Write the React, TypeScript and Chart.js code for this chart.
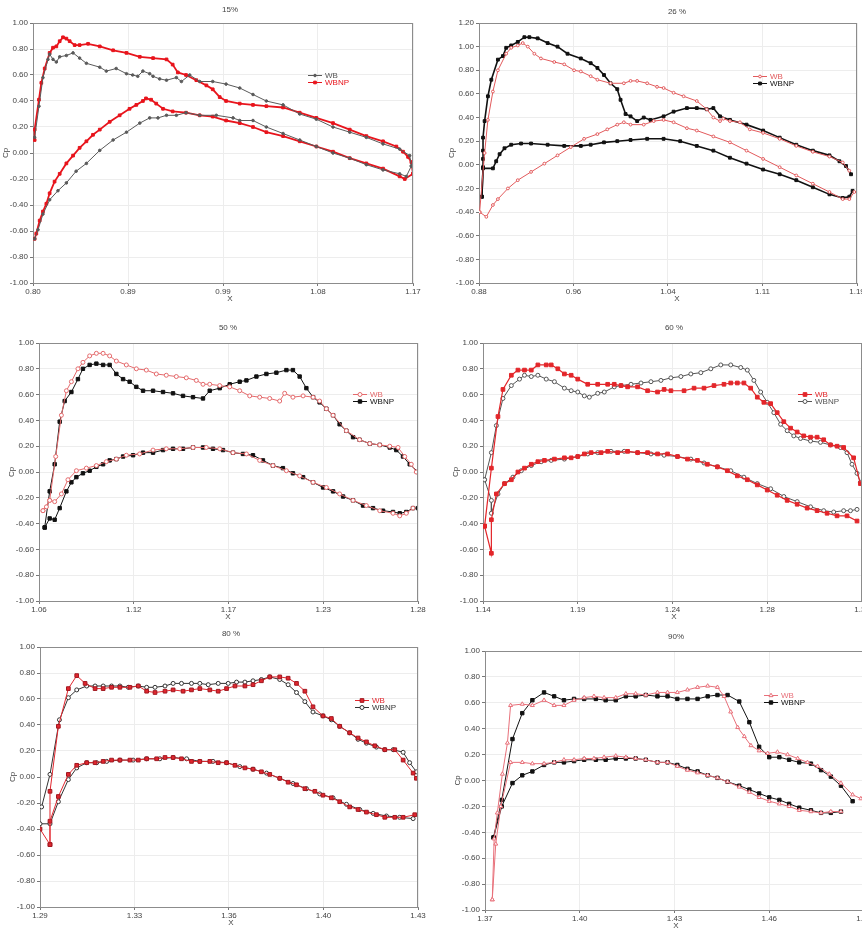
import React, { useEffect, useRef } from 'react';
import { Chart, registerables } from 'chart.js';

Chart.register(...registerables);

type Pt = [number, number];

// ---------------- shared ----------------
const seriesNames = ['WB', 'WBNP'];
const yLabels10 = ['-1.00', '-0.80', '-0.60', '-0.40', '-0.20', '0.00', '0.20', '0.40', '0.60', '0.80', '1.00'];
const yLabels12 = [...yLabels10, '1.20'];

// ---------------- 15% ----------------
const x15Range = [0.8, 1.17];
const x15Labels = ['0.80', '0.89', '0.99', '1.08', '1.17'];
const wb15Upper: Pt[] = [
  [0.8016, 0.12], [0.8058, 0.36], [0.8097, 0.58], [0.8146, 0.72], [0.8162, 0.76], [0.8195, 0.72], [0.8227, 0.70],
  [0.826, 0.74], [0.8325, 0.75], [0.839, 0.77], [0.8454, 0.73], [0.852, 0.69], [0.865, 0.66], [0.8714, 0.63],
  [0.881, 0.65], [0.891, 0.61], [0.897, 0.60], [0.902, 0.59], [0.907, 0.63], [0.9136, 0.61], [0.9169, 0.59],
  [0.9233, 0.57], [0.93, 0.56], [0.9396, 0.58], [0.9445, 0.55], [0.9526, 0.60], [0.9623, 0.55], [0.975, 0.55],
  [0.988, 0.53], [1.0013, 0.50], [1.0142, 0.45], [1.0272, 0.40], [1.0435, 0.37], [1.0597, 0.30], [1.0759, 0.26],
  [1.0921, 0.20], [1.1084, 0.16], [1.1246, 0.12], [1.1408, 0.07], [1.157, 0.03], [1.1668, -0.02], [1.1684, -0.10],
];
const wb15Lower: Pt[] = [
  [0.8016, -0.66], [0.8049, -0.59], [0.8097, -0.47], [0.8162, -0.36], [0.8243, -0.29], [0.8325, -0.23], [0.842, -0.14],
  [0.852, -0.08], [0.865, 0.02], [0.878, 0.10], [0.891, 0.16], [0.904, 0.23], [0.9136, 0.27], [0.9217, 0.27],
  [0.93, 0.29], [0.9396, 0.29], [0.949, 0.31], [0.9623, 0.29], [0.9785, 0.29], [0.9948, 0.27], [1.0013, 0.25],
  [1.0142, 0.25], [1.0272, 0.20], [1.0435, 0.15], [1.0597, 0.10], [1.0759, 0.05], [1.0921, 0.00], [1.1084, -0.04],
  [1.1246, -0.09], [1.1408, -0.13], [1.157, -0.16], [1.1635, -0.18], [1.1684, -0.10],
];
const wbnp15Upper: Pt[] = [
  [0.8016, 0.10], [0.8016, 0.18], [0.8058, 0.41], [0.8081, 0.54], [0.8114, 0.65], [0.8162, 0.77], [0.8195, 0.81],
  [0.8227, 0.82], [0.826, 0.86], [0.8292, 0.89], [0.8325, 0.88], [0.8357, 0.86], [0.8406, 0.83], [0.8454, 0.83],
  [0.8536, 0.84], [0.865, 0.82], [0.878, 0.79], [0.891, 0.77], [0.904, 0.74], [0.9169, 0.73], [0.93, 0.72],
  [0.936, 0.68], [0.941, 0.62], [0.949, 0.60], [0.959, 0.56], [0.9688, 0.52], [0.975, 0.49], [0.9818, 0.43],
  [0.988, 0.40], [1.0013, 0.38], [1.0142, 0.37], [1.0272, 0.36], [1.0435, 0.35], [1.0597, 0.31], [1.0759, 0.27],
  [1.0921, 0.23], [1.1084, 0.18], [1.1246, 0.13], [1.1408, 0.09], [1.1538, 0.05], [1.1603, 0.01], [1.1652, -0.03],
  [1.1684, -0.07], [1.17, -0.16],
];
const wbnp15Lower: Pt[] = [
  [0.8016, -0.66], [0.8032, -0.62], [0.8065, -0.52], [0.8097, -0.45], [0.813, -0.39], [0.8162, -0.31], [0.821, -0.22],
  [0.826, -0.16], [0.8325, -0.08], [0.839, -0.02], [0.8454, 0.04], [0.852, 0.09], [0.8584, 0.14], [0.865, 0.18],
  [0.8747, 0.24], [0.8844, 0.29], [0.894, 0.34], [0.9006, 0.37], [0.907, 0.40], [0.91, 0.42], [0.915, 0.41],
  [0.92, 0.38], [0.9266, 0.34], [0.936, 0.32], [0.949, 0.31], [0.9623, 0.29], [0.975, 0.28], [0.988, 0.25],
  [1.0013, 0.23], [1.0142, 0.20], [1.0272, 0.16], [1.0435, 0.13], [1.0597, 0.09], [1.0759, 0.05], [1.0921, 0.01],
  [1.1084, -0.04], [1.1246, -0.08], [1.1408, -0.12], [1.157, -0.18], [1.162, -0.20], [1.17, -0.16],
];

// ---------------- 26 % ----------------
const x26Range = [0.88, 1.19];
const x26Labels = ['0.88', '0.96', '1.04', '1.11', '1.19'];
const wb26Upper: Pt[] = [
  [0.8805, -0.40], [0.8846, 0.10], [0.8873, 0.38], [0.8914, 0.62], [0.8955, 0.80], [0.9023, 0.94], [0.9064, 0.99],
  [0.9118, 1.01], [0.9159, 1.03], [0.92, 1.00], [0.9254, 0.94], [0.9308, 0.90], [0.9417, 0.87], [0.9499, 0.85],
  [0.958, 0.80], [0.9635, 0.79], [0.9716, 0.75], [0.9771, 0.72], [0.9879, 0.69], [0.9988, 0.69], [1.0043, 0.71],
  [1.0097, 0.71], [1.0179, 0.69], [1.026, 0.66], [1.0314, 0.65], [1.0396, 0.61], [1.0478, 0.58], [1.0586, 0.54],
  [1.0668, 0.47], [1.0722, 0.40], [1.0777, 0.37], [1.0804, 0.39], [1.0858, 0.37], [1.094, 0.36], [1.1021, 0.30],
  [1.113, 0.27], [1.1266, 0.22], [1.1402, 0.16], [1.1538, 0.11], [1.1674, 0.07], [1.1783, 0.02], [1.1837, -0.05],
];
const wb26Lower: Pt[] = [
  [0.8805, -0.40], [0.886, -0.44], [0.8914, -0.34], [0.8955, -0.29], [0.9037, -0.20], [0.9118, -0.13], [0.9227, -0.06],
  [0.9336, 0.01], [0.9444, 0.08], [0.9553, 0.15], [0.9662, 0.22], [0.9771, 0.26], [0.9852, 0.30], [0.9934, 0.34],
  [0.9988, 0.36], [1.0043, 0.34], [1.0151, 0.34], [1.0233, 0.37], [1.0314, 0.38], [1.0396, 0.36], [1.0505, 0.31],
  [1.0586, 0.29], [1.0722, 0.24], [1.0858, 0.19], [1.0994, 0.12], [1.113, 0.05], [1.1266, -0.02], [1.1402, -0.09],
  [1.1538, -0.16], [1.1674, -0.23], [1.1783, -0.29], [1.1837, -0.29], [1.1878, -0.23],
];
const wbnp26Upper: Pt[] = [
  [0.8824, -0.27], [0.8833, -0.02], [0.8833, 0.05], [0.8833, 0.12], [0.8833, 0.23], [0.8846, 0.37], [0.8873, 0.58],
  [0.8901, 0.72], [0.8955, 0.89], [0.8996, 0.92], [0.9023, 0.99], [0.9064, 1.01], [0.9118, 1.04], [0.9172, 1.08],
  [0.9213, 1.08], [0.9281, 1.07], [0.9363, 1.03], [0.9444, 1.00], [0.9526, 0.94], [0.9635, 0.90], [0.9716, 0.86],
  [0.9771, 0.82], [0.9825, 0.76], [0.9879, 0.69], [0.9934, 0.64], [0.9961, 0.55], [1.0002, 0.43], [1.0043, 0.41],
  [1.0097, 0.37], [1.0151, 0.40], [1.0206, 0.38], [1.0314, 0.41], [1.0396, 0.45], [1.0505, 0.48], [1.0586, 0.48],
  [1.0668, 0.47], [1.0722, 0.48], [1.0777, 0.41], [1.0858, 0.38], [1.0994, 0.34], [1.113, 0.29], [1.1266, 0.23],
  [1.1402, 0.17], [1.1538, 0.12], [1.1674, 0.08], [1.1756, 0.03], [1.181, -0.01], [1.1851, -0.08],
];
const wbnp26Lower: Pt[] = [
  [0.8824, -0.27], [0.8833, -0.03], [0.8914, -0.03], [0.8941, 0.03], [0.8969, 0.09], [0.9009, 0.14], [0.9064, 0.17],
  [0.9145, 0.18], [0.9227, 0.18], [0.9363, 0.17], [0.9499, 0.16], [0.9635, 0.16], [0.9716, 0.17], [0.9825, 0.19],
  [0.9934, 0.20], [1.0043, 0.21], [1.0179, 0.22], [1.0314, 0.22], [1.045, 0.20], [1.0586, 0.16], [1.0722, 0.12],
  [1.0858, 0.06], [1.0994, 0.01], [1.113, -0.04], [1.1266, -0.08], [1.1402, -0.13], [1.1538, -0.19], [1.1674, -0.25],
  [1.1783, -0.28], [1.1837, -0.27], [1.1864, -0.22],
];

// ---------------- 50 % ----------------
const x50Range = [1.06, 1.28];
const x50Labels = ['1.06', '1.12', '1.17', '1.23', '1.28'];
const wb50Upper: Pt[] = [
  [1.0623, -0.30], [1.0643, -0.27], [1.0662, -0.22], [1.0697, 0.12], [1.073, 0.44], [1.0759, 0.63], [1.0788, 0.70],
  [1.0826, 0.80], [1.0855, 0.85], [1.0894, 0.90], [1.0933, 0.92], [1.0972, 0.92], [1.101, 0.90], [1.1049, 0.86],
  [1.1107, 0.83], [1.1165, 0.80], [1.1223, 0.79], [1.1281, 0.76], [1.1339, 0.75], [1.1397, 0.74], [1.1455, 0.73],
  [1.1513, 0.71], [1.1552, 0.68], [1.1591, 0.68], [1.1649, 0.67], [1.1707, 0.66], [1.1765, 0.63], [1.1823, 0.59],
  [1.1881, 0.58], [1.1939, 0.57], [1.1997, 0.55], [1.2026, 0.61], [1.2074, 0.58], [1.2133, 0.59], [1.2191, 0.58],
  [1.2229, 0.55], [1.2268, 0.49], [1.2307, 0.44], [1.2384, 0.32], [1.2461, 0.25], [1.252, 0.22], [1.2578, 0.21],
  [1.2636, 0.20], [1.2684, 0.19], [1.2723, 0.12], [1.2761, 0.06], [1.279, 0.00],
];
const wb50Lower: Pt[] = [
  [1.0623, -0.30], [1.0662, -0.22], [1.0691, -0.23], [1.073, -0.17], [1.0768, -0.06], [1.0817, 0.01], [1.0875, 0.03],
  [1.0933, 0.05], [1.0991, 0.08], [1.1049, 0.10], [1.1107, 0.13], [1.1184, 0.14], [1.1262, 0.17], [1.1339, 0.18],
  [1.1417, 0.18], [1.1494, 0.19], [1.1571, 0.19], [1.1649, 0.18], [1.1726, 0.15], [1.1804, 0.14], [1.1881, 0.09],
  [1.1958, 0.05], [1.2036, 0.01], [1.2113, -0.03], [1.2191, -0.08], [1.2268, -0.12], [1.2345, -0.17], [1.2423, -0.22],
  [1.25, -0.26], [1.2578, -0.30], [1.2655, -0.32], [1.2694, -0.34], [1.2732, -0.32], [1.2771, -0.28],
];
const wbnp50Upper: Pt[] = [
  [1.0633, -0.43], [1.0662, -0.15], [1.0691, 0.06], [1.072, 0.39], [1.0749, 0.55], [1.0788, 0.62], [1.0826, 0.72],
  [1.0855, 0.80], [1.0894, 0.83], [1.0933, 0.84], [1.0972, 0.83], [1.101, 0.83], [1.1049, 0.76], [1.1088, 0.72],
  [1.1126, 0.70], [1.1165, 0.66], [1.1204, 0.63], [1.1262, 0.63], [1.132, 0.62], [1.1378, 0.61], [1.1436, 0.59],
  [1.1494, 0.58], [1.1552, 0.57], [1.1591, 0.63], [1.1649, 0.65], [1.1707, 0.68], [1.1765, 0.70], [1.1804, 0.71],
  [1.1862, 0.74], [1.192, 0.76], [1.1978, 0.77], [1.2036, 0.79], [1.2074, 0.79], [1.2113, 0.74], [1.2152, 0.65],
  [1.2191, 0.58], [1.2229, 0.54], [1.2268, 0.49], [1.2307, 0.44], [1.2345, 0.37], [1.2384, 0.32], [1.2423, 0.27],
  [1.2461, 0.25], [1.252, 0.22], [1.2578, 0.21], [1.2636, 0.19], [1.2674, 0.17], [1.2713, 0.12], [1.2752, 0.06],
  [1.28, 0.00],
];
const wbnp50Lower: Pt[] = [
  [1.0633, -0.43], [1.0662, -0.36], [1.0691, -0.37], [1.072, -0.28], [1.0759, -0.15], [1.0788, -0.08], [1.0817, -0.04],
  [1.0855, -0.01], [1.0894, 0.01], [1.0933, 0.04], [1.0972, 0.06], [1.101, 0.09], [1.1049, 0.10], [1.1088, 0.12],
  [1.1146, 0.13], [1.1204, 0.15], [1.1262, 0.15], [1.132, 0.17], [1.1378, 0.18], [1.1436, 0.18], [1.1494, 0.19],
  [1.1552, 0.19], [1.161, 0.18], [1.1668, 0.17], [1.1726, 0.15], [1.1784, 0.14], [1.1842, 0.13], [1.19, 0.09],
  [1.1958, 0.05], [1.2016, 0.03], [1.2074, -0.01], [1.2133, -0.04], [1.2191, -0.08], [1.2249, -0.12], [1.2307, -0.15],
  [1.2365, -0.19], [1.2423, -0.22], [1.2481, -0.26], [1.2539, -0.28], [1.2597, -0.30], [1.2655, -0.31], [1.2694, -0.32],
  [1.2732, -0.31], [1.2771, -0.28], [1.28, -0.28],
];

// ---------------- 60 % ----------------
const x60Range = [1.14, 1.33];
const x60Labels = ['1.14', '1.19', '1.24', '1.28', '1.33'];
const wb60Upper: Pt[] = [
  [1.1408, -0.42], [1.1442, 0.03], [1.1475, 0.43], [1.15, 0.64], [1.1542, 0.75], [1.1575, 0.79], [1.1608, 0.79],
  [1.1642, 0.79], [1.1675, 0.83], [1.1717, 0.83], [1.1742, 0.83], [1.1775, 0.80], [1.1808, 0.76], [1.1842, 0.75],
  [1.1875, 0.72], [1.1925, 0.68], [1.1975, 0.68], [1.2025, 0.68], [1.2058, 0.68], [1.2092, 0.67], [1.2125, 0.66],
  [1.2175, 0.66], [1.2225, 0.63], [1.2275, 0.62], [1.2308, 0.64], [1.2342, 0.63], [1.2408, 0.63], [1.2458, 0.65],
  [1.2508, 0.65], [1.2558, 0.67], [1.2608, 0.68], [1.2642, 0.69], [1.2675, 0.69], [1.2708, 0.69], [1.2742, 0.65],
  [1.2775, 0.58], [1.2808, 0.54], [1.2842, 0.53], [1.2875, 0.46], [1.2908, 0.39], [1.2942, 0.34], [1.2975, 0.31],
  [1.3008, 0.28], [1.3042, 0.27], [1.3075, 0.27], [1.3108, 0.25], [1.3142, 0.21], [1.3175, 0.20], [1.3208, 0.19],
  [1.3258, 0.11], [1.3292, -0.09],
];
const wb60Lower: Pt[] = [
  [1.1408, -0.42], [1.1442, -0.63], [1.1442, -0.37], [1.1467, -0.17], [1.1508, -0.09], [1.1542, -0.06], [1.1575, 0.00],
  [1.1608, 0.03], [1.1642, 0.06], [1.1675, 0.08], [1.1708, 0.09], [1.1758, 0.10], [1.1808, 0.11], [1.1842, 0.11],
  [1.1875, 0.12], [1.1908, 0.14], [1.1942, 0.15], [1.1992, 0.15], [1.2025, 0.16], [1.2075, 0.15], [1.2125, 0.16],
  [1.2175, 0.15], [1.2225, 0.15], [1.2275, 0.14], [1.2325, 0.14], [1.2375, 0.12], [1.2425, 0.10], [1.2475, 0.09],
  [1.2525, 0.06], [1.2575, 0.04], [1.2625, 0.01], [1.2675, -0.03], [1.2725, -0.06], [1.2775, -0.10], [1.2825, -0.14],
  [1.2875, -0.18], [1.2925, -0.22], [1.2975, -0.25], [1.3025, -0.28], [1.3075, -0.30], [1.3125, -0.32], [1.3175, -0.34],
  [1.3225, -0.34], [1.3275, -0.38],
];
const wbnp60Upper: Pt[] = [
  [1.1408, -0.06], [1.1442, 0.15], [1.1467, 0.36], [1.15, 0.57], [1.1542, 0.67], [1.1583, 0.72], [1.1608, 0.75],
  [1.1642, 0.74], [1.1675, 0.75], [1.1717, 0.72], [1.1758, 0.70], [1.1808, 0.65], [1.1842, 0.63], [1.1875, 0.62],
  [1.1908, 0.59], [1.1933, 0.58], [1.1975, 0.61], [1.2008, 0.62], [1.2058, 0.66], [1.2092, 0.67], [1.2142, 0.68],
  [1.2192, 0.69], [1.2242, 0.70], [1.2292, 0.71], [1.2342, 0.73], [1.2392, 0.74], [1.2442, 0.76], [1.2492, 0.77],
  [1.2542, 0.80], [1.2592, 0.83], [1.2642, 0.83], [1.2692, 0.81], [1.2725, 0.79], [1.2758, 0.71], [1.2792, 0.62],
  [1.2825, 0.54], [1.2858, 0.46], [1.2892, 0.37], [1.2925, 0.32], [1.2958, 0.28], [1.2992, 0.26], [1.3042, 0.24],
  [1.3092, 0.23], [1.3142, 0.21], [1.3192, 0.19], [1.3225, 0.15], [1.325, 0.06], [1.3275, -0.01], [1.3292, -0.08],
];
const wbnp60Lower: Pt[] = [
  [1.1408, -0.06], [1.1442, -0.22], [1.1442, -0.32], [1.1475, -0.17], [1.1508, -0.09], [1.155, -0.04], [1.1592, 0.01],
  [1.1642, 0.05], [1.1692, 0.08], [1.1742, 0.09], [1.1808, 0.10], [1.1875, 0.12], [1.1925, 0.14], [1.1975, 0.15],
  [1.2042, 0.16], [1.2108, 0.16], [1.2175, 0.15], [1.2242, 0.14], [1.2308, 0.13], [1.2375, 0.12], [1.2442, 0.10],
  [1.2508, 0.07], [1.2575, 0.04], [1.2642, 0.01], [1.2708, -0.04], [1.2775, -0.09], [1.2842, -0.13], [1.2908, -0.19],
  [1.2975, -0.23], [1.3042, -0.27], [1.3108, -0.30], [1.3158, -0.31], [1.3208, -0.30], [1.3242, -0.30], [1.3275, -0.29],
];

// ---------------- 80 % ----------------
const x80Range = [1.29, 1.43];
const x80Labels = ['1.29', '1.33', '1.36', '1.40', '1.43'];
const wb80Upper: Pt[] = [
  [1.29, -0.40], [1.2937, -0.52], [1.2937, -0.11], [1.2968, 0.39], [1.3005, 0.68], [1.3036, 0.78], [1.3067, 0.72],
  [1.3104, 0.68], [1.3134, 0.68], [1.3165, 0.69], [1.3196, 0.69], [1.3233, 0.69], [1.3264, 0.70], [1.3295, 0.66],
  [1.3326, 0.65], [1.3363, 0.66], [1.3393, 0.67], [1.343, 0.66], [1.3461, 0.67], [1.3492, 0.68], [1.3529, 0.67],
  [1.356, 0.66], [1.3591, 0.68], [1.3622, 0.70], [1.3659, 0.70], [1.3689, 0.71], [1.372, 0.74], [1.3751, 0.77],
  [1.3788, 0.77], [1.3819, 0.76], [1.385, 0.72], [1.3881, 0.66], [1.3911, 0.54], [1.3948, 0.47], [1.3979, 0.45],
  [1.401, 0.39], [1.4047, 0.34], [1.4078, 0.30], [1.4109, 0.27], [1.414, 0.24], [1.4177, 0.21], [1.4214, 0.21],
  [1.4245, 0.13], [1.4282, 0.03], [1.4294, -0.01],
];
const wb80Lower: Pt[] = [
  [1.2937, -0.52], [1.2937, -0.34], [1.2968, -0.15], [1.3005, 0.02], [1.3036, 0.09], [1.3073, 0.11], [1.3104, 0.11],
  [1.3134, 0.12], [1.3165, 0.13], [1.3196, 0.13], [1.3233, 0.13], [1.3264, 0.13], [1.3295, 0.14], [1.3332, 0.14],
  [1.3363, 0.15], [1.3393, 0.15], [1.3424, 0.14], [1.3461, 0.12], [1.3492, 0.12], [1.3529, 0.12], [1.356, 0.11],
  [1.3591, 0.11], [1.3622, 0.09], [1.3659, 0.07], [1.3689, 0.06], [1.372, 0.04], [1.3751, 0.02], [1.3788, -0.01],
  [1.3819, -0.04], [1.385, -0.06], [1.3881, -0.09], [1.3918, -0.11], [1.3948, -0.14], [1.3979, -0.16], [1.401, -0.19],
  [1.4047, -0.23], [1.4078, -0.25], [1.4109, -0.27], [1.4146, -0.29], [1.4177, -0.31], [1.4214, -0.31], [1.4245, -0.31],
  [1.4288, -0.29],
];
const wbnp80Upper: Pt[] = [
  [1.2906, -0.23], [1.2937, 0.02], [1.2972, 0.44], [1.3005, 0.61], [1.3036, 0.67], [1.3073, 0.70], [1.3104, 0.70],
  [1.3134, 0.70], [1.3165, 0.70], [1.3196, 0.70], [1.3227, 0.69], [1.3264, 0.70], [1.3295, 0.69], [1.3326, 0.69],
  [1.3363, 0.70], [1.3393, 0.72], [1.3424, 0.72], [1.3461, 0.72], [1.3492, 0.72], [1.3523, 0.71], [1.356, 0.72],
  [1.3597, 0.72], [1.3628, 0.73], [1.3659, 0.73], [1.3689, 0.74], [1.372, 0.75], [1.3751, 0.77], [1.3788, 0.75],
  [1.3819, 0.71], [1.385, 0.65], [1.3881, 0.58], [1.3911, 0.50], [1.3948, 0.47], [1.3979, 0.44], [1.401, 0.39],
  [1.4047, 0.34], [1.4078, 0.29], [1.4109, 0.26], [1.4146, 0.23], [1.4177, 0.21], [1.4208, 0.21], [1.4245, 0.19],
  [1.4269, 0.11], [1.4294, 0.04],
];
const wbnp80Lower: Pt[] = [
  [1.29, -0.36], [1.2937, -0.36], [1.2968, -0.19], [1.3005, -0.02], [1.3036, 0.07], [1.3073, 0.11], [1.311, 0.11],
  [1.3147, 0.12], [1.3196, 0.13], [1.3245, 0.13], [1.3295, 0.14], [1.3344, 0.14], [1.3393, 0.15], [1.3443, 0.14],
  [1.3492, 0.12], [1.3541, 0.12], [1.3591, 0.11], [1.364, 0.08], [1.3689, 0.06], [1.3739, 0.03], [1.3788, -0.01],
  [1.3837, -0.05], [1.3887, -0.09], [1.3936, -0.13], [1.3985, -0.16], [1.4035, -0.21], [1.4084, -0.25], [1.4134, -0.28],
  [1.4183, -0.30], [1.4232, -0.31], [1.4282, -0.32],
];

// ---------------- 90% ----------------
const x90Range = [1.37, 1.49];
const x90Labels = ['1.37', '1.40', '1.43', '1.46', '1.49'];
const wb90Upper: Pt[] = [
  [1.3723, -0.92], [1.3729, -0.45], [1.3739, -0.25], [1.3755, 0.05], [1.3771, 0.29], [1.3781, 0.58], [1.3818, 0.59],
  [1.385, 0.58], [1.3887, 0.62], [1.3919, 0.58], [1.395, 0.58], [1.3982, 0.62], [1.4014, 0.64], [1.4045, 0.65],
  [1.4077, 0.64], [1.4114, 0.64], [1.4146, 0.67], [1.4177, 0.67], [1.4209, 0.66], [1.4246, 0.68], [1.4278, 0.68],
  [1.4309, 0.68], [1.4341, 0.70], [1.4373, 0.72], [1.4405, 0.73], [1.4436, 0.72], [1.4457, 0.65], [1.4478, 0.53],
  [1.45, 0.41], [1.4521, 0.34], [1.4542, 0.27], [1.4568, 0.23], [1.4595, 0.21], [1.4626, 0.22], [1.4658, 0.20],
  [1.469, 0.17], [1.4721, 0.14], [1.4753, 0.11], [1.479, 0.05], [1.4827, -0.02], [1.4864, -0.11], [1.489, -0.14],
];
const wb90Lower: Pt[] = [
  [1.3723, -0.92], [1.3734, -0.49], [1.375, -0.20], [1.3781, 0.14], [1.3818, 0.14], [1.385, 0.13], [1.3887, 0.13],
  [1.3919, 0.14], [1.395, 0.16], [1.3982, 0.16], [1.4014, 0.17], [1.4045, 0.17], [1.4077, 0.18], [1.4114, 0.19],
  [1.4146, 0.18], [1.4177, 0.17], [1.4209, 0.16], [1.4246, 0.14], [1.4278, 0.14], [1.4309, 0.11], [1.4341, 0.08],
  [1.4373, 0.06], [1.4405, 0.04], [1.4436, 0.02], [1.4468, -0.01], [1.4505, -0.05], [1.4537, -0.09], [1.4568, -0.13],
  [1.46, -0.16], [1.4632, -0.18], [1.4663, -0.20], [1.4695, -0.23], [1.4732, -0.24], [1.4764, -0.25], [1.4795, -0.24],
  [1.4827, -0.24],
];
const wbnp90Upper: Pt[] = [
  [1.3727, -0.44], [1.3753, -0.15], [1.3787, 0.32], [1.3818, 0.52], [1.385, 0.62], [1.3887, 0.68], [1.3919, 0.65],
  [1.395, 0.62], [1.3982, 0.63], [1.4014, 0.63], [1.4051, 0.63], [1.4082, 0.62], [1.4114, 0.62], [1.4146, 0.65],
  [1.4177, 0.65], [1.4209, 0.66], [1.4246, 0.65], [1.4278, 0.65], [1.4309, 0.63], [1.4341, 0.63], [1.4373, 0.63],
  [1.4405, 0.65], [1.4436, 0.66], [1.4468, 0.66], [1.4505, 0.61], [1.4537, 0.45], [1.4568, 0.26], [1.46, 0.18],
  [1.4632, 0.18], [1.4663, 0.16], [1.4695, 0.14], [1.4732, 0.13], [1.4764, 0.08], [1.4795, 0.03], [1.4827, -0.04],
  [1.4864, -0.16],
];
const wbnp90Lower: Pt[] = [
  [1.3727, -0.44], [1.3753, -0.20], [1.3787, -0.02], [1.3818, 0.04], [1.385, 0.07], [1.3887, 0.12], [1.3919, 0.14],
  [1.395, 0.14], [1.3982, 0.15], [1.4014, 0.16], [1.4051, 0.16], [1.4082, 0.16], [1.4114, 0.17], [1.4146, 0.17],
  [1.4177, 0.17], [1.4209, 0.16], [1.4246, 0.14], [1.4278, 0.14], [1.4309, 0.12], [1.4341, 0.09], [1.4373, 0.07],
  [1.4405, 0.04], [1.4436, 0.02], [1.4468, -0.01], [1.4505, -0.04], [1.4537, -0.07], [1.4568, -0.10], [1.46, -0.13],
  [1.4632, -0.15], [1.4663, -0.18], [1.4695, -0.21], [1.4732, -0.23], [1.4764, -0.25], [1.4795, -0.25], [1.4827, -0.24],
];

// ---------------- styles & layout ----------------
interface SeriesStyle { color: string; text: string; shape: string; r: number; fill: boolean; lw: number; border?: string }

const FONT = '8px "Liberation Sans", Arial, Helvetica, sans-serif';

const sGrayDots: SeriesStyle = { color: '#5a5a5a', text: '#555', shape: 'circle', r: 1.3, fill: true, lw: 1 };
const sRedThick: SeriesStyle = { color: '#e8141c', text: '#e8141c', shape: 'rect', r: 1.9, fill: true, lw: 1.8 };
const sRedThinOpen: SeriesStyle = { color: '#e25a5c', text: '#e25a5c', shape: 'circle', r: 1.4, fill: false, lw: 1 };
const sBlackThick: SeriesStyle = { color: '#111111', text: '#111', shape: 'rect', r: 2, fill: true, lw: 1.6 };
const sRedOpen: SeriesStyle = { color: '#e46a6c', text: '#e46a6c', shape: 'circle', r: 2, fill: false, lw: 1 };
const sBlackSq: SeriesStyle = { color: '#111111', text: '#111', shape: 'rect', r: 2.4, fill: true, lw: 1 };
const sRedSq: SeriesStyle = { color: '#e3262a', text: '#e3262a', shape: 'rect', r: 2.6, fill: true, lw: 1.2 };
const sGrayOpen: SeriesStyle = { color: '#555555', text: '#555', shape: 'circle', r: 2, fill: false, lw: 1 };
const sRedSqDark: SeriesStyle = { color: '#e2262e', text: '#e2262e', shape: 'rect', r: 2.6, fill: true, lw: 1, border: '#a01820' };
const sDarkOpen: SeriesStyle = { color: '#333333', text: '#333', shape: 'circle', r: 2, fill: false, lw: 1 };
const sPinkTri: SeriesStyle = { color: '#e8707a', text: '#e8707a', shape: 'triangle', r: 2.3, fill: false, lw: 1 };

interface PanelDef {
  title: string; xRange: number[]; xLabels: string[]; yMax: number; yLabels: string[];
  wbU: Pt[]; wbL: Pt[]; npU: Pt[]; npL: Pt[]; wbS: SeriesStyle; npS: SeriesStyle;
  L: number; R: number; T: number; B: number; tx: number; ty: number; lx: number; ly: number;
}

const panels: PanelDef[] = [
  { title: '15%', xRange: x15Range, xLabels: x15Labels, yMax: 1, yLabels: yLabels10,
    wbU: wb15Upper, wbL: wb15Lower, npU: wbnp15Upper, npL: wbnp15Lower, wbS: sGrayDots, npS: sRedThick,
    L: 33, R: 413, T: 23, B: 283, tx: 230, ty: 10, lx: 308, ly: 75 },
  { title: '26 %', xRange: x26Range, xLabels: x26Labels, yMax: 1.2, yLabels: yLabels12,
    wbU: wb26Upper, wbL: wb26Lower, npU: wbnp26Upper, npL: wbnp26Lower, wbS: sRedThinOpen, npS: sBlackThick,
    L: 479, R: 857, T: 23, B: 283, tx: 677, ty: 12, lx: 753, ly: 76 },
  { title: '50 %', xRange: x50Range, xLabels: x50Labels, yMax: 1, yLabels: yLabels10,
    wbU: wb50Upper, wbL: wb50Lower, npU: wbnp50Upper, npL: wbnp50Lower, wbS: sRedOpen, npS: sBlackSq,
    L: 39, R: 418, T: 343, B: 601, tx: 228, ty: 328, lx: 353, ly: 394 },
  { title: '60 %', xRange: x60Range, xLabels: x60Labels, yMax: 1, yLabels: yLabels10,
    wbU: wb60Upper, wbL: wb60Lower, npU: wbnp60Upper, npL: wbnp60Lower, wbS: sRedSq, npS: sGrayOpen,
    L: 483, R: 862, T: 343, B: 601, tx: 674, ty: 328, lx: 798, ly: 394 },
  { title: '80 %', xRange: x80Range, xLabels: x80Labels, yMax: 1, yLabels: yLabels10,
    wbU: wb80Upper, wbL: wb80Lower, npU: wbnp80Upper, npL: wbnp80Lower, wbS: sRedSqDark, npS: sDarkOpen,
    L: 40, R: 418, T: 647, B: 907, tx: 231, ty: 634, lx: 355, ly: 700 },
  { title: '90%', xRange: x90Range, xLabels: x90Labels, yMax: 1, yLabels: yLabels10,
    wbU: wb90Upper, wbL: wb90Lower, npU: wbnp90Upper, npL: wbnp90Lower, wbS: sPinkTri, npS: sBlackSq,
    L: 485, R: 864, T: 651, B: 910, tx: 676, ty: 637, lx: 764, ly: 695 },
];

const PAD_L = 10, PAD_T = 40, PAD_R = 20, PAD_B = 10, Y_W = 30, X_H = 20;

function drawMarker(ctx: CanvasRenderingContext2D, st: SeriesStyle, x: number, y: number) {
  ctx.save();
  ctx.lineWidth = 1;
  ctx.strokeStyle = st.border || st.color;
  ctx.fillStyle = st.fill ? st.color : '#ffffff';
  ctx.beginPath();
  const r = st.r;
  if (st.shape === 'rect') {
    const s = r * Math.SQRT1_2;
    ctx.rect(x - s, y - s, 2 * s, 2 * s);
  } else if (st.shape === 'triangle') {
    ctx.moveTo(x, y - r);
    ctx.lineTo(x + r * 0.87, y + r * 0.5);
    ctx.lineTo(x - r * 0.87, y + r * 0.5);
    ctx.closePath();
  } else {
    ctx.arc(x, y, r, 0, Math.PI * 2);
  }
  ctx.fill();
  ctx.stroke();
  ctx.restore();
}

function makeDataset(data: Pt[], st: SeriesStyle) {
  return {
    data: data.map(([x, y]) => ({ x, y })),
    showLine: true,
    borderColor: st.color,
    borderWidth: st.lw,
    pointStyle: st.shape,
    pointRadius: st.r,
    pointBackgroundColor: st.fill ? st.color : '#ffffff',
    pointBorderColor: st.border || st.color,
    pointBorderWidth: 1,
    tension: 0,
    fill: false,
  };
}

function PanelChart({ p }: { p: PanelDef }) {
  const ref = useRef<HTMLCanvasElement>(null);
  const cx = p.L - PAD_L - Y_W;
  const cy = p.T - PAD_T;
  const cw = p.R - p.L + PAD_L + Y_W + PAD_R;
  const ch = p.B - p.T + PAD_T + X_H + PAD_B;

  useEffect(() => {
    const [xMin, xMax] = p.xRange;
    const xVals = p.xLabels.map((_, i) => xMin + (i * (xMax - xMin)) / (p.xLabels.length - 1));
    const yVals = p.yLabels.map((_, i) => -1 + i * 0.2);

    const decor = {
      id: 'decor',
      afterDraw(chart: any) {
        const ctx: CanvasRenderingContext2D = chart.ctx;
        const a = chart.chartArea;
        ctx.save();
        ctx.strokeStyle = '#8c8c8c';
        ctx.lineWidth = 1;
        ctx.beginPath();
        ctx.moveTo(a.left, a.top + 0.5);
        ctx.lineTo(a.right, a.top + 0.5);
        ctx.moveTo(a.right - 0.5, a.top);
        ctx.lineTo(a.right - 0.5, a.bottom);
        ctx.stroke();

        ctx.font = FONT;
        ctx.fillStyle = '#444';
        ctx.textAlign = 'center';
        ctx.textBaseline = 'middle';
        ctx.fillText(p.title, p.tx - cx, p.ty - cy);
        ctx.fillText('X', p.tx - cx, a.bottom + 16);
        ctx.save();
        ctx.translate(a.left - 27, (a.top + a.bottom) / 2);
        ctx.rotate(-Math.PI / 2);
        ctx.fillText('Cp', 0, 0);
        ctx.restore();

        const items: [string, SeriesStyle][] = [[seriesNames[0], p.wbS], [seriesNames[1], p.npS]];
        items.forEach(([label, st], i) => {
          const x = p.lx - cx;
          const y = p.ly - cy + i * 7 + 0.5;
          ctx.strokeStyle = st.color;
          ctx.lineWidth = 1;
          ctx.beginPath();
          ctx.moveTo(x, y);
          ctx.lineTo(x + 14, y);
          ctx.stroke();
          drawMarker(ctx, st, x + 7, y);
          ctx.fillStyle = st.text;
          ctx.textAlign = 'left';
          ctx.fillText(label, x + 17, y);
        });
        ctx.restore();
      },
    };

    const tickFont = { size: 8, family: '"Liberation Sans", Arial, Helvetica, sans-serif' };
    const chart = new Chart(ref.current as HTMLCanvasElement, {
      type: 'scatter',
      data: {
        datasets: [
          makeDataset(p.wbU, p.wbS),
          makeDataset(p.wbL, p.wbS),
          makeDataset(p.npU, p.npS),
          makeDataset(p.npL, p.npS),
        ] as any,
      },
      options: {
        animation: false,
        responsive: false,
        events: [],
        layout: { padding: { left: PAD_L, top: PAD_T, right: PAD_R, bottom: PAD_B } },
        plugins: { legend: { display: false }, tooltip: { enabled: false }, title: { display: false } },
        scales: {
          x: {
            type: 'linear',
            min: xMin,
            max: xMax,
            afterBuildTicks: (scale: any) => { scale.ticks = xVals.map((v) => ({ value: v })); },
            afterFit: (scale: any) => { scale.height = X_H; scale.paddingLeft = 0; scale.paddingRight = 0; },
            ticks: {
              autoSkip: false, maxRotation: 0, padding: 1, color: '#444', font: tickFont,
              callback: (_v: any, i: number) => p.xLabels[i],
            },
            grid: { color: '#ededed', tickColor: '#777', tickLength: 3, lineWidth: 1 },
            border: { color: '#8c8c8c' },
          },
          y: {
            type: 'linear',
            min: -1,
            max: p.yMax,
            afterBuildTicks: (scale: any) => { scale.ticks = yVals.map((v) => ({ value: v })); },
            afterFit: (scale: any) => { scale.width = Y_W; scale.paddingTop = 0; scale.paddingBottom = 0; },
            ticks: {
              autoSkip: false, padding: 2, color: '#444', font: tickFont,
              callback: (_v: any, i: number) => p.yLabels[i],
            },
            grid: { color: '#ededed', tickColor: '#777', tickLength: 3, lineWidth: 1 },
            border: { color: '#8c8c8c' },
          },
        },
      } as any,
      plugins: [decor],
    });
    return () => chart.destroy();
  }, [p]);

  return (
    <canvas
      ref={ref}
      width={cw}
      height={ch}
      style={{ position: 'absolute', left: cx, top: cy, width: cw, height: ch }}
    />
  );
}

export default function App() {
  return (
    <div
      style={{
        position: 'fixed', left: 0, top: 0, width: 862, height: 929,
        overflow: 'hidden', background: '#ffffff',
      }}
    >
      {panels.map((p) => (
        <PanelChart key={p.title} p={p} />
      ))}
    </div>
  );
}
